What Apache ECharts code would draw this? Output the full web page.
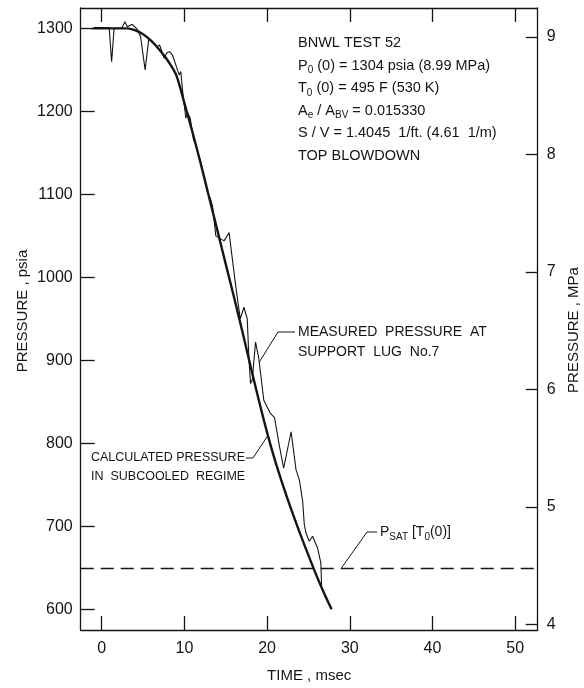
<!DOCTYPE html>
<html>
<head>
<meta charset="utf-8">
<script src="https://cdn.jsdelivr.net/npm/echarts@6/dist/echarts.min.js"></script>
<style>
  html, body { margin: 0; padding: 0; background: #fff; }
  #chart { width: 584px; height: 688px; }
</style>
</head>
<body>
<div id="chart"></div>
<script>
// Tick positions on the three scales
const timeTicks = [0, 10, 20, 30, 40, 50];
const psiaTicks = [600, 700, 800, 900, 1000, 1100, 1200, 1300];
const mpaTicks = [4, 5, 6, 7, 8, 9];

// Calculated vessel pressure, subcooled regime (msec, psia)
const calcTime = [-1, 0, 1, 2, 3, 4, 5, 6, 7, 8, 9, 10, 11, 12, 13, 14, 15, 16, 17, 18, 19, 20, 21, 22, 23, 24, 25, 26, 27, 27.8];
const calcPsia = [1300, 1300, 1300, 1300, 1300, 1298, 1293, 1285, 1274, 1261, 1244, 1210, 1174, 1136, 1096, 1056, 1016, 976, 935, 893, 852, 813, 778, 747, 718, 691, 665, 640, 617, 600];

// Measured pressure at support lug No. 7 (msec, psia)
const measTime = [-1.25, -0.9, 0.9, 1.2, 1.5, 2.4, 2.8, 3.1, 3.7, 4.3, 4.7, 5.25, 5.7, 6.7, 7.0, 7.55, 7.9, 8.2, 8.55, 8.96, 9.36, 9.56, 9.77, 10.17, 10.4, 10.7, 11.1, 11.3, 12.0, 12.8, 13.1, 13.4, 13.8, 14.8, 15.4, 15.6, 16.2, 16.75, 17.2, 17.6, 17.8, 18.0, 18.2, 18.6, 19.0, 19.6, 20.4, 20.9, 21.5, 22.0, 22.9, 23.5, 23.9, 24.3, 24.5, 24.7, 25.1, 25.5, 26.1, 26.5, 26.6];
const measPsia = [1299, 1301, 1301, 1260, 1300, 1300, 1308, 1302, 1305, 1299, 1290, 1250, 1288, 1278, 1280, 1264, 1271, 1272, 1268, 1256, 1244, 1248, 1226, 1192, 1198, 1192, 1166, 1162, 1138, 1102, 1096, 1086, 1050, 1044, 1054, 1038, 990, 950, 964, 950, 902, 872, 876, 922, 902, 852, 836, 831, 796, 770, 814, 768, 756, 730, 702, 692, 682, 688, 674, 656, 624];

// Saturation pressure at the initial temperature (psia)
const psatPsia = 650;

const FONT = '"Liberation Sans", Arial, sans-serif';
const INK = '#151515';

const X_MIN = -2.54, X_MAX = 52.72;
const P_MIN = 575.1, P_MAX = 1324.6;
const M_MIN = 3.952, M_MAX = 9.246;

const zip = (a, b) => a.map((v, i) => [v, b[i]]);
function valueAt(ts, vs, t) {
  for (let i = 1; i < ts.length; i++) {
    if (t <= ts[i]) {
      const f = (t - ts[i - 1]) / (ts[i] - ts[i - 1]);
      return vs[i - 1] + f * (vs[i] - vs[i - 1]);
    }
  }
  return vs[vs.length - 1];
}

const lineStyleAxis = { color: INK, width: 1.3 };
const labelStyle = { color: INK, fontFamily: FONT, fontSize: 16, formatter: (v) => String(v) };

const chart = echarts.init(document.getElementById('chart'), null, { renderer: 'canvas' });

chart.setOption({
  animation: false,
  backgroundColor: '#fff',
  grid: { left: 80.7, right: 46.3, top: 8, bottom: 56.3 },
  xAxis: [{
    type: 'value', min: X_MIN, max: X_MAX, position: 'bottom',
    axisLine: { show: true, onZero: false, lineStyle: lineStyleAxis },
    axisTick: { show: true, inside: true, length: 14, customValues: timeTicks, lineStyle: lineStyleAxis },
    axisLabel: { show: true, customValues: timeTicks, margin: 11, ...labelStyle },
    splitLine: { show: false },
    name: 'TIME , msec', nameLocation: 'middle', nameGap: 38,
    nameTextStyle: { color: INK, fontFamily: FONT, fontSize: 15 }
  }, {
    type: 'value', min: X_MIN, max: X_MAX, position: 'top',
    axisLine: { show: true, onZero: false, lineStyle: lineStyleAxis },
    axisTick: { show: true, inside: true, length: 14, customValues: timeTicks, lineStyle: lineStyleAxis },
    axisLabel: { show: false },
    splitLine: { show: false }
  }],
  yAxis: [{
    type: 'value', min: P_MIN, max: P_MAX, position: 'left',
    axisLine: { show: true, onZero: false, lineStyle: lineStyleAxis },
    axisTick: { show: true, inside: true, length: 14, customValues: psiaTicks, lineStyle: lineStyleAxis },
    axisLabel: { show: true, customValues: psiaTicks, margin: 8, ...labelStyle },
    splitLine: { show: false }
  }, {
    type: 'value', min: M_MIN, max: M_MAX, position: 'right',
    axisLine: { show: true, onZero: false, lineStyle: lineStyleAxis },
    axisTick: { show: true, inside: true, length: 12, customValues: mpaTicks, lineStyle: lineStyleAxis },
    axisLabel: { show: true, customValues: mpaTicks, margin: 9, ...labelStyle },
    splitLine: { show: false }
  }],
  series: [{
    name: 'measured', type: 'line', xAxisIndex: 0, yAxisIndex: 0,
    data: zip(measTime, measPsia), showSymbol: false, smooth: false,
    lineStyle: { color: INK, width: 1.1 }, silent: true, z: 3
  }, {
    name: 'calculated', type: 'line', xAxisIndex: 0, yAxisIndex: 0,
    data: zip(calcTime, calcPsia), showSymbol: false, smooth: 0.3,
    lineStyle: { color: INK, width: 2.4 }, silent: true, z: 4,
    markLine: {
      silent: true, symbol: 'none', label: { show: false },
      lineStyle: { color: INK, width: 1.3, type: [13, 7] },
      data: [{ yAxis: psatPsia }]
    }
  }]
});

// Annotations: leader lines anchored on the curves, text beside them
const px = (t, p) => chart.convertToPixel({ xAxisIndex: 0, yAxisIndex: 0 }, [t, p]);
const measAnchor = px(19.05, valueAt(measTime, measPsia, 19.05));
const calcAnchor = px(20.1, valueAt(calcTime, calcPsia, 20.1));
const psatAnchor = px(29.0, psatPsia);

function richFor(size) {
  return {
    n: { fontSize: size, fontFamily: FONT, fill: INK, lineHeight: 20, verticalAlign: 'middle' },
    s: { fontSize: Math.round(size * 0.68), fontFamily: FONT, fill: INK, lineHeight: 11, verticalAlign: 'bottom' }
  };
}

function text(x, y, str, size) {
  return {
    type: 'text', x: x, y: y, silent: true,
    style: { text: str, rich: richFor(size), fill: INK, font: size + 'px ' + FONT, verticalAlign: 'middle', align: 'left' }
  };
}
function title(x, y, str) {
  return {
    type: 'text', x: x, y: y, rotation: Math.PI / 2, silent: true,
    style: { text: str, fill: INK, font: '15px ' + FONT, align: 'center', verticalAlign: 'middle' }
  };
}
function leader(points) {
  return {
    type: 'polyline', silent: true,
    shape: { points: points },
    style: { stroke: INK, lineWidth: 1, fill: null }
  };
}

const infoLines = [
  '{n|BNWL TEST 52}',
  '{n|P}{s|0}{n| (0) = 1304 psia (8.99 MPa)}',
  '{n|T}{s|0}{n| (0) = 495 F (530 K)}',
  '{n|A}{s|e}{n| / A}{s|BV}{n| = 0.015330}',
  '{n|S / V = 1.4045  1/ft. (4.61  1/m)}',
  '{n|TOP BLOWDOWN}'
];
const graphics = infoLines.map((s, i) => text(298, 43 + i * 22.5, s, 14.5));

graphics.push(title(23, 311, 'PRESSURE , psia'));
graphics.push(title(574, 330, 'PRESSURE , MPa'));

graphics.push(text(298, 332, '{n|MEASURED  PRESSURE  AT}', 14));
graphics.push(text(298, 352, '{n|SUPPORT  LUG  No.7}', 14));
graphics.push(leader([measAnchor, [278, 332], [295, 332]]));

graphics.push(text(91, 458, '{n|CALCULATED PRESSURE}', 12.5));
graphics.push(text(91, 477, '{n|IN  SUBCOOLED  REGIME}', 12.5));
graphics.push(leader([[246, 458], [253, 458], calcAnchor]));

graphics.push(text(380, 532, '{n|P}{s|SAT}{n| [T}{s|0}{n|(0)]}', 14));
graphics.push(leader([psatAnchor, [367, 532], [377, 532]]));

chart.setOption({ graphic: graphics });
</script>
</body>
</html>
